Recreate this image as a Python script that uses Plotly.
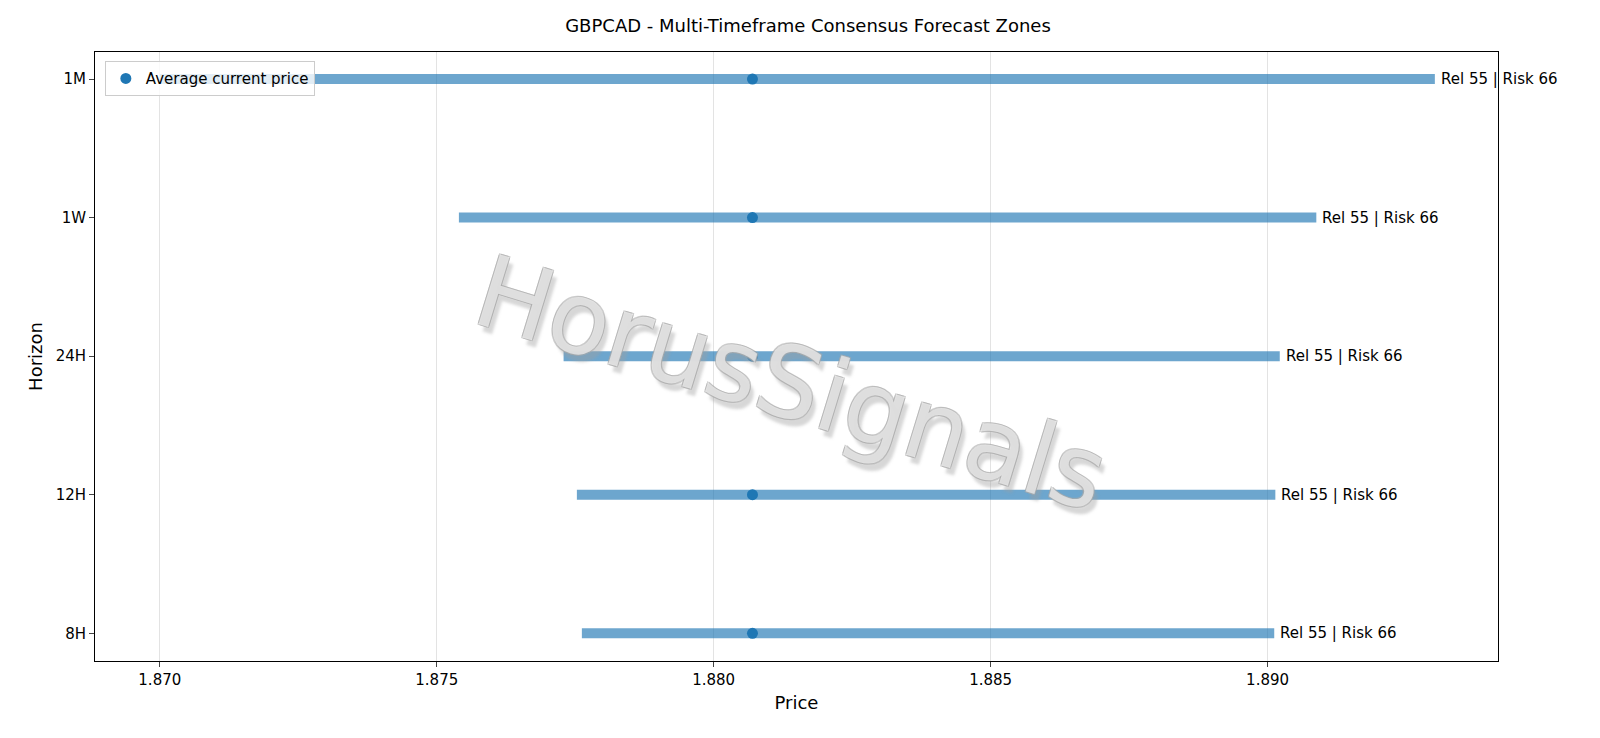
import plotly.graph_objects as go

# Consensus forecast zones per horizon
horizons = ['8H', '12H', '24H', '1W', '1M']
low = [1.87762, 1.87753, 1.87729, 1.87540, 1.87000]
high = [1.89012, 1.89014, 1.89022, 1.89088, 1.89302]
current = [1.88070, 1.88070, 1.88070, 1.88070, 1.88070]
labels = ['Rel 55 | Risk 66'] * 5

fig = go.Figure()

for i, h in enumerate(horizons):
    fig.add_trace(go.Scatter(
        x=[low[i], high[i]], y=[h, h], mode='lines',
        line=dict(color='rgba(31,119,180,0.65)', width=10),
        showlegend=False, hoverinfo='skip'))
    fig.add_annotation(x=high[i], y=h, text=labels[i], showarrow=False,
                       xanchor='left', xshift=4, font=dict(size=15, color='black'))

fig.add_trace(go.Scatter(
    x=current, y=horizons, mode='markers',
    marker=dict(color='#1f77b4', size=11),
    name='Average current price'))

# watermark
outline = ', '.join(f'{dx}px {dy}px 0 #aaa' for dx in (-1, 1) for dy in (-1, 1))
fig.add_annotation(x=1.88140, y=1.80, xref='x', yref='y', text='HorusSignals',
                   showarrow=False, textangle=17,
                   font=dict(size=100, color='rgba(255,255,255,0.6)', family='DejaVu Sans',
                             shadow=outline + ', 6px 6px 3px rgba(160,160,160,0.7)'))

fig.update_layout(
    width=1600, height=738,
    paper_bgcolor='white', plot_bgcolor='white',
    margin=dict(l=87, r=110, t=44, b=85),
    font=dict(family='DejaVu Sans', size=15, color='black'),
    title=dict(text='GBPCAD - Multi-Timeframe Consensus Forecast Zones',
               x=0.5, xanchor='center', y=0.985, font=dict(size=18)),
    legend=dict(x=0.007, y=0.985, xanchor='left', yanchor='top',
                bgcolor='rgba(255,255,255,0.8)', bordercolor='#ccc', borderwidth=1,
                font=dict(size=15)),
)
fig.update_xaxes(range=[1.86883, 1.89416], tickvals=[1.870, 1.875, 1.880, 1.885, 1.890],
                 tickformat='.3f', title=dict(text='Price', standoff=8),
                 showgrid=True, gridcolor='#e3e3e3', showline=True, linecolor='black',
                 mirror=True, ticks='outside', ticklen=5, zeroline=False)
fig.update_yaxes(categoryorder='array', categoryarray=horizons, range=[-0.2, 4.195],
                 title=dict(text='Horizon', standoff=8), showgrid=False,
                 showline=True, linecolor='black', mirror=True, ticks='outside', ticklen=5)

fig.write_html('out.html')
